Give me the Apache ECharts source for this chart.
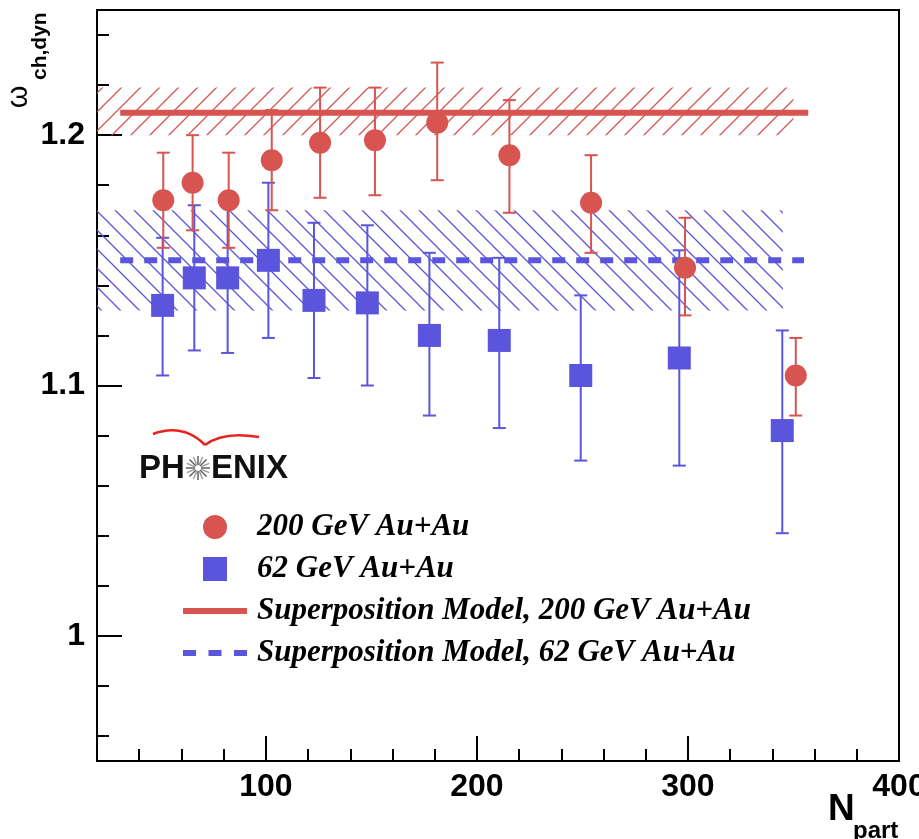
<!DOCTYPE html>
<html>
<head>
<meta charset="utf-8">
<script src="https://cdn.jsdelivr.net/npm/echarts@6/dist/echarts.min.js"></script>
<style>
  html, body { margin: 0; padding: 0; background: #fff; }
  #chart { width: 919px; height: 839px; }
</style>
</head>
<body>
<div id="chart"></div>
<script>
// Dynamical charge fluctuations vs. number of participants, PHENIX Au+Au

// 200 GeV Au+Au
const npart200 = [51.4, 65.3, 82.4, 102.8, 125.7, 151.7, 181.2, 215.4, 254.1, 298.6, 351.1];
const omega200 = [1.174, 1.181, 1.174, 1.190, 1.197, 1.198, 1.205, 1.192, 1.173, 1.147, 1.104];
const low200   = [1.155, 1.162, 1.155, 1.170, 1.175, 1.176, 1.182, 1.169, 1.153, 1.128, 1.088];
const high200  = [1.193, 1.200, 1.193, 1.210, 1.219, 1.219, 1.229, 1.214, 1.192, 1.167, 1.119];

// 62 GeV Au+Au
const npart62 = [51.1, 66.1, 81.9, 101.2, 122.8, 148.1, 177.5, 210.6, 249.2, 295.9, 344.7];
const omega62 = [1.132, 1.143, 1.143, 1.150, 1.134, 1.133, 1.120, 1.118, 1.104, 1.111, 1.082];
const low62   = [1.104, 1.114, 1.113, 1.119, 1.103, 1.100, 1.088, 1.083, 1.070, 1.068, 1.041];
const high62  = [1.159, 1.172, 1.173, 1.181, 1.165, 1.164, 1.153, 1.151, 1.136, 1.154, 1.122];

// Superposition model predictions: line extent, value, band extent, band limits
const model200X = [31, 357];
const model200Y = 1.209;
const band200X = [20, 350];
const band200Y = [1.200, 1.219];

const model62X = [31, 355];
const model62Y = 1.150;
const band62X = [20, 345];
const band62Y = [1.130, 1.170];

// Axis ranges and ticks
const xRange = [20, 400];
const yRange = [0.95, 1.25];
const xMajorTicks = [100, 200, 300, 400];
const xMinorTicks = [40, 60, 80, 120, 140, 160, 180, 220, 240, 260, 280, 320, 340, 360, 380];
const yMajorTicks = [1.0, 1.1, 1.2];
const yMajorLabels = ['1', '1.1', '1.2'];
const yMinorTicks = [0.96, 0.98, 1.02, 1.04, 1.06, 1.08, 1.12, 1.14, 1.16, 1.18, 1.22, 1.24];

const legendNames = [
  '200 GeV Au+Au',
  '62 GeV Au+Au',
  'Superposition Model, 200 GeV Au+Au',
  'Superposition Model, 62 GeV Au+Au'
];

const RED = '#d75450';
const BLUE = '#5a55dc';

// Diagonal hatch tile used to fill the model uncertainty bands
function hatchTile(color, rising) {
  const s = 19;
  const c = document.createElement('canvas');
  c.width = s; c.height = s;
  const g = c.getContext('2d');
  g.strokeStyle = color;
  g.lineWidth = 1.3;
  g.beginPath();
  if (rising) {
    g.moveTo(-2, s + 2); g.lineTo(s + 2, -2);
    g.moveTo(-2, 2); g.lineTo(2, -2);
    g.moveTo(s - 2, s + 2); g.lineTo(s + 2, s - 2);
  } else {
    g.moveTo(-2, -2); g.lineTo(s + 2, s + 2);
    g.moveTo(s - 2, -2); g.lineTo(s + 2, 2);
    g.moveTo(-2, s - 2); g.lineTo(2, s + 2);
  }
  g.stroke();
  return c;
}

function errorBars(color) {
  return function (params, api) {
    const x = api.value(0);
    const lo = api.coord([x, api.value(1)]);
    const hi = api.coord([x, api.value(2)]);
    const cap = 6.5;
    const style = { stroke: color, lineWidth: 2 };
    return {
      type: 'group',
      children: [
        { type: 'line', shape: { x1: lo[0], y1: lo[1], x2: hi[0], y2: hi[1] }, style: style },
        { type: 'line', shape: { x1: lo[0] - cap, y1: lo[1], x2: lo[0] + cap, y2: lo[1] }, style: style },
        { type: 'line', shape: { x1: hi[0] - cap, y1: hi[1], x2: hi[0] + cap, y2: hi[1] }, style: style }
      ]
    };
  };
}

const chart = echarts.init(document.getElementById('chart'), null, { renderer: 'canvas' });

const axisFont = { fontFamily: 'Liberation Sans', fontWeight: 'bold', fontSize: 32, color: '#000' };
const legendFont = 'italic bold 31px "Liberation Serif"';

// PHENIX logo burst
const burst = [];
const bx = 198, by = 468;
for (let k = 0; k < 16; k++) {
  const a = k * Math.PI / 8;
  burst.push({
    type: 'line',
    shape: { x1: bx + 3 * Math.cos(a), y1: by + 3 * Math.sin(a), x2: bx + 12 * Math.cos(a), y2: by + 12 * Math.sin(a) },
    style: { stroke: k % 2 ? '#9a9a9a' : '#555', lineWidth: 1.4 }
  });
}

const option = {
  animation: false,
  backgroundColor: '#fff',
  grid: {
    left: 97, right: 20, top: 10, bottom: 78,
    outerBoundsMode: 'none', containLabel: false,
    show: true, borderColor: '#000', borderWidth: 2, backgroundColor: 'transparent'
  },
  xAxis: [
    {
      type: 'value', min: xRange[0], max: xRange[1],
      axisLine: { show: true, lineStyle: { color: '#000', width: 2 } },
      axisTick: { show: true, inside: true, length: 25, customValues: xMajorTicks, lineStyle: { color: '#000', width: 2 } },
      axisLabel: Object.assign({ customValues: xMajorTicks, margin: 10 }, axisFont),
      splitLine: { show: false }
    },
    {
      type: 'value', min: xRange[0], max: xRange[1], position: 'bottom',
      axisLine: { show: false },
      axisTick: { show: true, inside: true, length: 12, customValues: xMinorTicks, lineStyle: { color: '#000', width: 2 } },
      axisLabel: { show: false },
      splitLine: { show: false }
    }
  ],
  yAxis: [
    {
      type: 'value', min: yRange[0], max: yRange[1],
      axisLine: { show: true, lineStyle: { color: '#000', width: 2 } },
      axisTick: { show: true, inside: true, length: 25, customValues: yMajorTicks, lineStyle: { color: '#000', width: 2 } },
      axisLabel: Object.assign({
        customValues: yMajorTicks, margin: 12,
        formatter: function (v) { return yMajorLabels[yMajorTicks.findIndex(t => Math.abs(t - v) < 1e-6)]; }
      }, axisFont),
      splitLine: { show: false }
    },
    {
      type: 'value', min: yRange[0], max: yRange[1], position: 'left',
      axisLine: { show: false },
      axisTick: { show: true, inside: true, length: 12, customValues: yMinorTicks, lineStyle: { color: '#000', width: 2 } },
      axisLabel: { show: false },
      splitLine: { show: false }
    }
  ],
  series: [
    {
      name: legendNames[2], type: 'line', z: 2, symbol: 'none', silent: true,
      data: model200X.map(x => [x, model200Y]),
      lineStyle: { color: RED, width: 6 },
      markArea: {
        silent: true,
        itemStyle: { color: { image: hatchTile(RED, true), repeat: 'repeat' } },
        data: [[{ coord: [band200X[0], band200Y[0]] }, { coord: [band200X[1], band200Y[1]] }]]
      }
    },
    {
      name: legendNames[3], type: 'line', z: 2, symbol: 'none', silent: true,
      data: model62X.map(x => [x, model62Y]),
      lineStyle: { color: BLUE, width: 6, type: [13, 11] },
      markArea: {
        silent: true,
        itemStyle: { color: { image: hatchTile(BLUE, false), repeat: 'repeat' } },
        data: [[{ coord: [band62X[0], band62Y[0]] }, { coord: [band62X[1], band62Y[1]] }]]
      }
    },
    {
      type: 'custom', z: 3, silent: true,
      renderItem: errorBars(BLUE),
      data: npart62.map((n, i) => [n, low62[i], high62[i]])
    },
    {
      type: 'custom', z: 3, silent: true,
      renderItem: errorBars(RED),
      data: npart200.map((n, i) => [n, low200[i], high200[i]])
    },
    {
      name: legendNames[1], type: 'scatter', z: 4, symbol: 'rect', symbolSize: 23,
      itemStyle: { color: BLUE, opacity: 1 },
      data: npart62.map((n, i) => [n, omega62[i]])
    },
    {
      name: legendNames[0], type: 'scatter', z: 5, symbol: 'circle', symbolSize: 22,
      itemStyle: { color: RED, opacity: 1 },
      data: npart200.map((n, i) => [n, omega200[i]])
    }
  ],
  graphic: [
    // axis titles
    { type: 'text', x: 19, y: 97, rotation: Math.PI / 2,
      style: { text: 'ω', font: '29px "Liberation Sans"', fill: '#000', textAlign: 'center', textVerticalAlign: 'middle' } },
    { type: 'text', x: 40, y: 80, rotation: Math.PI / 2,
      style: { text: 'ch,dyn', font: 'bold 21px "Liberation Sans"', fill: '#000', textAlign: 'left', textVerticalAlign: 'middle' } },
    { type: 'text', x: 828, y: 810,
      style: { text: 'N', font: 'bold 37px "Liberation Sans"', fill: '#000', textAlign: 'left', textVerticalAlign: 'middle' } },
    { type: 'text', x: 853, y: 831,
      style: { text: 'part', font: 'bold 24px "Liberation Sans"', fill: '#000', textAlign: 'left', textVerticalAlign: 'middle' } },

    // legend
    { type: 'circle', shape: { cx: 215, cy: 527, r: 12 }, style: { fill: RED } },
    { type: 'rect', shape: { x: 203, y: 557, width: 24, height: 24 }, style: { fill: BLUE } },
    { type: 'line', shape: { x1: 183, y1: 611, x2: 247, y2: 611 }, style: { stroke: RED, lineWidth: 6 } },
    { type: 'line', shape: { x1: 183, y1: 653, x2: 247, y2: 653 }, style: { stroke: BLUE, lineWidth: 6, lineDash: [13, 12.5] } },
    { type: 'text', x: 257, y: 527, style: { text: legendNames[0], font: legendFont, fill: '#000', textVerticalAlign: 'middle' } },
    { type: 'text', x: 257, y: 569, style: { text: legendNames[1], font: legendFont, fill: '#000', textVerticalAlign: 'middle' } },
    { type: 'text', x: 257, y: 611, style: { text: legendNames[2], font: legendFont, fill: '#000', textVerticalAlign: 'middle' } },
    { type: 'text', x: 257, y: 653, style: { text: legendNames[3], font: legendFont, fill: '#000', textVerticalAlign: 'middle' } },

    // PHENIX logo
    { type: 'group', children: [
      { type: 'text', x: 139, y: 469, style: { text: 'PH', font: 'bold 33px "Liberation Sans"', fill: '#111', textVerticalAlign: 'middle' } },
      { type: 'text', x: 211, y: 469, style: { text: 'ENIX', font: 'bold 33px "Liberation Sans"', fill: '#111', textVerticalAlign: 'middle' } },
      { type: 'bezierCurve', shape: { x1: 153, y1: 434, cpx1: 183, cpy1: 423, x2: 205, y2: 445 }, style: { stroke: '#e8231c', lineWidth: 2.5, fill: null } },
      { type: 'bezierCurve', shape: { x1: 205, y1: 445, cpx1: 223, cpy1: 431, x2: 259, y2: 437 }, style: { stroke: '#e8231c', lineWidth: 2.5, fill: null } }
    ].concat(burst) }
  ]
};

chart.setOption(option);
</script>
</body>
</html>
